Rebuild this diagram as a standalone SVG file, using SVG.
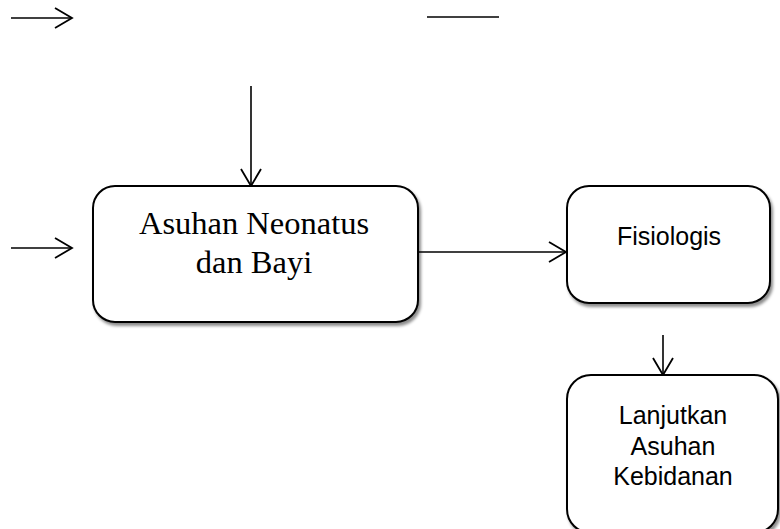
<svg xmlns="http://www.w3.org/2000/svg" width="780" height="529" viewBox="0 0 780 529">
<style>
.box{fill:#fff;stroke:#000;stroke-width:2;filter:url(#sh)}
.con{fill:none;stroke:#000;stroke-width:1.6}
.serif{font-family:"Liberation Serif","Times New Roman",serif;font-size:32.5px;fill:#000;text-anchor:middle}
.sans{font-family:"Liberation Sans",Arial,sans-serif;font-size:25px;fill:#000;text-anchor:middle}
</style>
<defs>
<marker id="ah" markerUnits="userSpaceOnUse" markerWidth="24" markerHeight="24" refX="18" refY="11" orient="auto" viewBox="0 0 24 24">
<path d="M1,1 L18,11 L1,21" fill="none" stroke="#000" stroke-width="1.8"/>
</marker>
<filter id="sh" x="-10%" y="-10%" width="125%" height="125%">
<feDropShadow dx="2" dy="3" stdDeviation="1.5" flood-color="#000" flood-opacity="0.45"/>
</filter>
</defs>
<g id="connectors">
<line class="con" x1="11" y1="18" x2="72" y2="18" marker-end="url(#ah)"/>
<line class="con" x1="427" y1="17" x2="499" y2="17"/>
<line class="con" x1="251" y1="86" x2="251" y2="186" marker-end="url(#ah)"/>
<line class="con" x1="11" y1="248" x2="72" y2="248" marker-end="url(#ah)"/>
<line class="con" x1="418" y1="252" x2="566" y2="252" marker-end="url(#ah)"/>
<line class="con" x1="663" y1="335" x2="663" y2="375" marker-end="url(#ah)"/>
</g>
<g id="asuhan">
<rect class="box" x="93" y="186" width="325" height="136" rx="22" ry="22"/>
<text class="serif" x="254" y="234">Asuhan Neonatus</text>
<text class="serif" x="254" y="273">dan Bayi</text>
</g>
<g id="fisiologis">
<rect class="box" x="567" y="186" width="203" height="117" rx="22" ry="22"/>
<text class="sans" x="669" y="245">Fisiologis</text>
</g>
<g id="lanjutkan">
<rect class="box" x="567" y="375" width="211" height="158" rx="24" ry="24"/>
<text class="sans" x="673" y="424">Lanjutkan</text>
<text class="sans" x="673" y="455">Asuhan</text>
<text class="sans" x="673" y="485">Kebidanan</text>
</g>
</svg>
